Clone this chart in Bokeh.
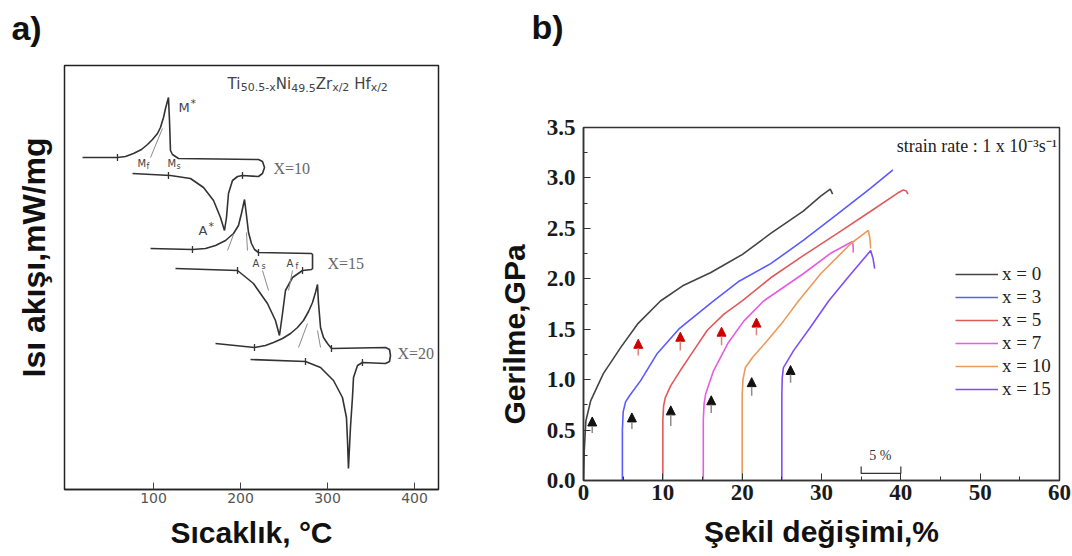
import math
from bokeh.plotting import figure
from bokeh.layouts import row, column
from bokeh.models import (Range1d, FixedTicker, Label, Arrow, NormalHead, Title,
                          ColumnDataSource, PrintfTickFormatter)
from bokeh.embed import file_html
from bokeh.resources import INLINE

# ---------------- panel a : DSC curves (temperature °C, heat flow a.u.) ----------------
a_ticks = [100, 200, 300, 400]

dsc_x10_T = [18.4, 58.6, 67.8, 77.0, 86.2, 93.1, 98.8, 104.6, 108.0, 111.5, 113.8, 117.2,
             118.4, 119.5, 121.8, 128.7, 220.7, 225.3, 227.6, 225.3, 220.7, 202.3, 196.6,
             190.8, 186.2, 183.9, 181.6, 177.0, 169.0, 157.5, 142.5, 119.5, 75.9]
dsc_x10_hf = [3.32, 3.32, 3.33, 3.36, 3.40, 3.45, 3.50, 3.56, 3.62, 3.72, 3.81, 3.92,
              3.69, 3.39, 3.35, 3.31, 3.30, 3.28, 3.22, 3.16, 3.13, 3.14, 3.13,
              3.09, 2.96, 2.72, 2.59, 2.72, 2.89, 3.02, 3.11, 3.14, 3.16]

dsc_x15_T = [96.6, 144.8, 159.8, 171.3, 182.8, 192.0, 197.7, 201.1, 204.6, 206.9,
             209.2, 212.6, 216.1, 220.7, 281.6, 282.8, 282.8, 281.6, 271.3, 259.8,
             251.7, 248.3, 244.8, 240.2, 231.0, 214.9, 196.6, 125.3]
dsc_x15_hf = [2.41, 2.40, 2.41, 2.44, 2.49, 2.56, 2.64, 2.76, 2.90, 2.74,
              2.57, 2.46, 2.40, 2.37, 2.36, 2.35, 2.21, 2.20, 2.19, 2.12,
              1.99, 1.76, 1.54, 1.69, 1.86, 2.06, 2.19, 2.21]

dsc_x20_T = [171.3, 216.1, 228.7, 237.9, 248.3, 257.5, 265.5, 272.4, 278.2, 282.8,
             286.2, 288.5, 289.7, 292.0, 295.4, 300.0, 304.6, 366.7, 371.3, 372.4,
             371.3, 366.7, 340.2, 334.5, 329.9, 328.7, 326.4, 324.1, 323.0, 321.8,
             317.2, 306.9, 292.0, 274.7, 211.5]
dsc_x20_hf = [1.46, 1.42, 1.44, 1.47, 1.51, 1.56, 1.62, 1.69, 1.78, 1.87,
              1.97, 2.05, 1.86, 1.62, 1.52, 1.46, 1.41, 1.42, 1.40, 1.34,
              1.28, 1.26, 1.27, 1.24, 1.12, 0.92, 0.62, 0.21, 0.49, 0.72,
              0.92, 1.09, 1.22, 1.28, 1.30]

onset_T = [58.6, 117.2, 202.3, 144.8, 220.7, 196.6, 271.3, 216.1, 304.6, 274.7, 340.2]
onset_hf = [3.32, 3.14, 3.14, 2.40, 2.37, 2.19, 2.19, 1.42, 1.41, 1.28, 1.27]

tangent_T0 = [96.6, 185.1, 208.0, 225.3, 259.8, 266.7, 292.0]
tangent_hf0 = [3.32, 2.39, 2.39, 2.19, 2.19, 1.42, 1.42]
tangent_T1 = [110.3, 192.0, 206.9, 232.2, 255.2, 277.0, 288.5]
tangent_hf1 = [3.61, 2.55, 2.57, 1.99, 1.99, 1.66, 1.59]

formula_parts = ["Ti", "50.5-x", "Ni", "49.5", "Zr", "x/2", "Hf", "x/2"]

# ---------------- panel b : stress-strain curves ----------------
b_series = ["x = 0", "x = 3", "x = 5", "x = 7", "x = 10", "x = 15"]
b_colors = ["#444444", "#5b5bff", "#e05a5a", "#e65ce6", "#ec9a5a", "#7f4ff5"]

strain_x0 = [0.0, 0.1, 0.3, 0.9, 2.5, 4.7, 6.8, 9.7, 12.5, 16.0, 20.0, 23.6, 27.7, 29.9, 31.1, 31.4]
stress_x0 = [0.0, 0.30, 0.59, 0.79, 1.06, 1.32, 1.55, 1.78, 1.93, 2.06, 2.24, 2.45, 2.67, 2.82, 2.89, 2.84]

strain_x3 = [4.9, 4.9, 5.0, 5.3, 5.8, 7.2, 9.3, 12.0, 14.8, 16.4, 19.5, 23.6, 27.7, 32.0, 36.2, 39.0]
stress_x3 = [0.0, 0.50, 0.68, 0.78, 0.84, 0.99, 1.26, 1.50, 1.68, 1.78, 1.97, 2.15, 2.38, 2.64, 2.90, 3.08]

strain_x5 = [10.0, 10.0, 10.1, 10.3, 11.0, 12.2, 13.9, 15.6, 17.7, 20.0, 23.6, 27.7, 32.0, 36.2, 39.6, 40.3, 40.7, 40.9]
stress_x5 = [0.0, 0.60, 0.74, 0.82, 0.94, 1.09, 1.29, 1.49, 1.65, 1.78, 2.01, 2.23, 2.45, 2.67, 2.85, 2.88, 2.87, 2.84]

strain_x7 = [15.1, 15.1, 15.2, 15.4, 16.4, 18.2, 20.2, 22.7, 27.7, 31.1, 33.9, 34.0, 34.0]
stress_x7 = [0.0, 0.60, 0.76, 0.86, 1.09, 1.36, 1.58, 1.78, 2.05, 2.25, 2.37, 2.32, 2.26]

strain_x10 = [20.0, 20.0, 20.1, 20.4, 21.3, 23.2, 25.2, 27.1, 29.9, 33.7, 35.9, 36.1, 36.2]
stress_x10 = [0.0, 0.85, 1.00, 1.12, 1.22, 1.39, 1.58, 1.78, 2.05, 2.35, 2.48, 2.40, 2.30]

strain_x15 = [25.0, 25.0, 25.05, 25.2, 26.5, 28.6, 30.9, 33.3, 36.2, 36.5, 36.7]
stress_x15 = [0.0, 0.85, 1.02, 1.12, 1.29, 1.52, 1.78, 2.01, 2.28, 2.20, 2.10]

red_arrow_strain = [6.9, 12.2, 17.4, 21.8]
red_arrow_tail = [1.24, 1.29, 1.34, 1.44]
red_arrow_head = [1.40, 1.47, 1.52, 1.61]

black_arrow_strain = [1.1, 6.1, 11.0, 16.1, 21.2, 26.1]
black_arrow_tail = [0.47, 0.51, 0.54, 0.67, 0.84, 0.97]
black_arrow_head = [0.63, 0.67, 0.74, 0.84, 1.02, 1.14]

scalebar_strain = [35, 35, 40, 40]
scalebar_stress = [0.14, 0.07, 0.07, 0.14]

b_xticks = [0, 10, 20, 30, 40, 50, 60]
b_xminor = [5, 15, 25, 35, 45, 55]
b_yticks = [0.0, 0.5, 1.0, 1.5, 2.0, 2.5, 3.0, 3.5]
b_yminor = [0.25, 0.75, 1.25, 1.75, 2.25, 2.75, 3.25]

panel_tags = ["a)", "b)"]


def lab(p, x, y, text, font="DejaVu Sans", size="13px", color="#444444", align="left",
        style="normal", angle=0.0, dx=0, dy=0):
    p.add_layout(Label(x=x, y=y, text=text, text_font=font, text_font_size=size,
                       text_color=color, text_align=align, text_baseline="middle",
                       text_font_style=style, angle=angle, x_offset=dx, y_offset=dy))


def side_title(p, text, side, offset, standoff, size="30px"):
    p.add_layout(Title(text=text, align="left", offset=offset, standoff=standoff,
                       text_font="Liberation Sans", text_font_size=size,
                       text_font_style="bold", text_color="#111111"), side)


# ======================= strip with panel tags =======================
strip = figure(width=1072, height=55, x_range=Range1d(0, 1072), y_range=Range1d(0, 55),
               output_backend="svg", toolbar_location=None, frame_align=False,
               min_border_left=0, min_border_right=0, min_border_top=0, min_border_bottom=0)
strip.axis.visible = False
strip.grid.visible = False
strip.outline_line_color = None
lab(strip, 26, 28, panel_tags[0], font="Liberation Sans", size="34px", color="#111111",
    align="center", style="bold")
lab(strip, 547, 29, panel_tags[1], font="Liberation Sans", size="34px", color="#111111",
    align="center", style="bold")

# ======================= panel a =======================
pa = figure(width=470, height=501, x_range=Range1d(-2.3, 427.6), y_range=Range1d(0, 4.24),
            output_backend="svg", toolbar_location=None, frame_align=False,
            min_border_left=64, min_border_right=32, min_border_top=10, min_border_bottom=67)
pa.xgrid.visible = False
pa.ygrid.visible = False
pa.yaxis.visible = False
pa.outline_line_color = "#222222"
pa.outline_line_width = 1.5

xa = pa.xaxis[0]
xa.ticker = FixedTicker(ticks=a_ticks)
xa.major_tick_in = 7
xa.major_tick_out = 0
xa.minor_tick_in = 0
xa.minor_tick_out = 0
xa.axis_line_color = "#222222"
xa.axis_line_width = 1.5
xa.major_tick_line_color = "#444444"
xa.major_label_text_font = "DejaVu Sans"
xa.major_label_text_font_size = "14px"
xa.major_label_text_color = "#555555"
xa.major_label_standoff = 3
xa.axis_label = "Sıcaklık, °C"
xa.axis_label_text_font = "Liberation Sans"
xa.axis_label_text_font_size = "30px"
xa.axis_label_text_font_style = "bold"
xa.axis_label_text_color = "#111111"
xa.axis_label_standoff = 10

curve_col = "#333333"
for T, hf in [(dsc_x10_T, dsc_x10_hf), (dsc_x15_T, dsc_x15_hf), (dsc_x20_T, dsc_x20_hf)]:
    pa.line(T, hf, line_color=curve_col, line_width=1.6)
pa.segment(x0=tangent_T0, y0=tangent_hf0, x1=tangent_T1, y1=tangent_hf1,
           line_color="#8a8a8a", line_width=1)
pa.scatter(onset_T, onset_hf, marker="dash", angle=math.pi / 2, size=7,
           line_color=curve_col, line_width=1.3)

formula_dx = [0, 13.3, 48.3, 63.7, 88.2, 104.6, 126.6, 143.1]
for i, (part, dx) in enumerate(zip(formula_parts, formula_dx)):
    sub = (i % 2 == 1)
    lab(pa, 185.1, 4.06, part, size="11px" if sub else "15px", dx=dx, dy=-4 if sub else 0)

lab(pa, 128.7, 3.82, "M", size="13px")
lab(pa, 128.7, 3.82, "*", size="11px", dx=12, dy=4)
lab(pa, 151.7, 2.59, "A", size="13px")
lab(pa, 151.7, 2.59, "*", size="11px", dx=10, dy=4)
for x0, main, sub in [(81.6, "M", "f"), (116.1, "M", "s"), (213.8, "A", "s"), (253.0, "A", "f")]:
    lab(pa, x0, 3.26 if main == "M" else 2.26, main, size="10px")
    lab(pa, x0, 3.26 if main == "M" else 2.26, sub, size="8px", dx=9, dy=-3)
for x0, y0, t in [(237.9, 3.21, "X=10"), (300.0, 2.26, "X=15"), (380.5, 1.36, "X=20")]:
    lab(pa, x0, y0, t, font="Liberation Serif", size="16px", color="#666666")

side_title(pa, "Isı akışı,mW/mg", "left", offset=112, standoff=26, size="32px")

# ======================= panel b =======================
pb = figure(width=602, height=501, x_range=Range1d(0, 60), y_range=Range1d(0, 3.5),
            output_backend="svg", toolbar_location=None, frame_align=False,
            min_border_left=113, min_border_right=13, min_border_top=72, min_border_bottom=76)
pb.xgrid.visible = False
pb.ygrid.visible = False
pb.outline_line_color = "#333333"
pb.outline_line_width = 1.5

for ax, ticks, minor in [(pb.xaxis[0], b_xticks, b_xminor), (pb.yaxis[0], b_yticks, b_yminor)]:
    ax.ticker = FixedTicker(ticks=ticks, minor_ticks=minor)
    ax.major_tick_in = 7
    ax.major_tick_out = 0
    ax.minor_tick_in = 4
    ax.minor_tick_out = 0
    ax.axis_line_color = "#333333"
    ax.axis_line_width = 1.5
    ax.major_tick_line_color = "#333333"
    ax.minor_tick_line_color = "#333333"
    ax.major_label_text_font = "Liberation Serif"
    ax.major_label_text_font_size = "23px"
    ax.major_label_text_font_style = "bold"
    ax.major_label_text_color = "#1a1a1a"
pb.yaxis[0].formatter = PrintfTickFormatter(format="%.1f")
pb.yaxis[0].major_label_standoff = 8
pb.xaxis[0].major_label_standoff = 4
pb.xaxis[0].axis_label = "Şekil değişimi,%"
pb.xaxis[0].axis_label_text_font = "Liberation Sans"
pb.xaxis[0].axis_label_text_font_size = "30px"
pb.xaxis[0].axis_label_text_font_style = "bold"
pb.xaxis[0].axis_label_text_color = "#111111"
pb.xaxis[0].axis_label_standoff = 12

series = [(strain_x0, stress_x0), (strain_x3, stress_x3), (strain_x5, stress_x5),
          (strain_x7, stress_x7), (strain_x10, stress_x10), (strain_x15, stress_x15)]
for (sx, sy), name, col in zip(series, b_series, b_colors):
    pb.line(sx, sy, line_color=col, line_width=1.6, legend_label=name)

pb.line(scalebar_strain, scalebar_stress, line_color="#333333", line_width=1.2)

red_src = ColumnDataSource(dict(x0=red_arrow_strain, y0=red_arrow_tail,
                                x1=red_arrow_strain, y1=red_arrow_head))
pb.add_layout(Arrow(end=NormalHead(size=9, fill_color="#cc0000", line_color="#cc0000"),
                    x_start="x0", y_start="y0", x_end="x1", y_end="y1", source=red_src,
                    line_color="#e08080", line_width=1.5))
blk_src = ColumnDataSource(dict(x0=black_arrow_strain, y0=black_arrow_tail,
                                x1=black_arrow_strain, y1=black_arrow_head))
pb.add_layout(Arrow(end=NormalHead(size=9, fill_color="#111111", line_color="#111111"),
                    x_start="x0", y_start="y0", x_end="x1", y_end="y1", source=blk_src,
                    line_color="#8c8c8c", line_width=1.5))

lab(pb, 37.4, 0.25, "5 %", font="Liberation Serif", size="14px", color="#333333", align="center")
lab(pb, 59.7, 3.32, "strain rate : 1 x 10⁻³s⁻¹", font="Liberation Serif", size="18px",
    color="#222222", align="right")

side_title(pb, "Gerilme,GPa", "left", offset=56, standoff=26)

lg = pb.legend[0]
lg.location = (372, 80)
lg.border_line_color = None
lg.background_fill_alpha = 0
lg.label_text_font = "Liberation Serif"
lg.label_text_font_size = "19px"
lg.label_text_color = "#222222"
lg.glyph_width = 43
lg.glyph_height = 20
lg.label_height = 20
lg.spacing = 1
lg.padding = 0
lg.margin = 0
lg.label_standoff = 4

layout = column(strip, row(pa, pb))
with open("out.html", "w", encoding="utf-8") as f:
    f.write(file_html(layout, INLINE))
